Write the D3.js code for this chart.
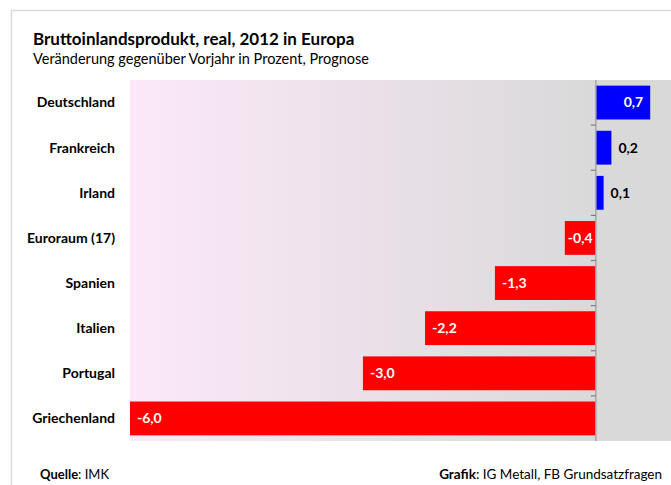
<!DOCTYPE html>
<html>
<head>
<meta charset="utf-8">
<script src="https://cdn.jsdelivr.net/npm/d3@7"></script>
<style>
  body { margin: 0; background: #fff; }
  text { font-family: Lato, "Open Sans", sans-serif; }
</style>
</head>
<body>
<div id="chart"></div>
<script>
// ===========Data
var countries = ["Deutschland", "Frankreich", "Irland", "Euroraum (17)", "Spanien", "Italien", "Portugal", "Griechenland"];
var values = [0.7, 0.2, 0.1, -0.4, -1.3, -2.2, -3.0, -6.0];
var valueLabels = ["0,7", "0,2", "0,1", "-0,4", "-1,3", "-2,2", "-3,0", "-6,0"];

var svgWidth = 671;
var svgHeight = 485;
var margin = { top: 80, right: 0, bottom: 44, left: 130 };
var width = svgWidth - margin.left - margin.right;
var height = svgHeight - margin.top - margin.bottom;

var svg = d3.select("#chart").append("svg")
    .attr("width", svgWidth)
    .attr("height", svgHeight);

// ===========Outer frame
svg.append("path")
    .attr("d", "M11.5," + svgHeight + " V10.5 H" + svgWidth)
    .attr("fill", "none")
    .attr("stroke", "#d9d9d9")
    .attr("stroke-width", 1.5);

// ===========Titles
svg.append("text")
    .attr("x", 33).attr("y", 45)
    .attr("font-size", "17px").attr("font-weight", "bold")
    .attr("fill", "#000")
    .text("Bruttoinlandsprodukt, real, 2012 in Europa");
svg.append("text")
    .attr("x", 33).attr("y", 64)
    .attr("font-size", "14.5px")
    .attr("fill", "#000")
    .text("Veränderung gegenüber Vorjahr in Prozent, Prognose");

// ===========Gradient background
var defs = svg.append("defs");
var grad = defs.append("linearGradient").attr("id", "bg")
    .attr("x1", "0%").attr("x2", "100%").attr("y1", "0%").attr("y2", "0%");
grad.append("stop").attr("offset", "0%").attr("stop-color", "#fce8f9");
grad.append("stop").attr("offset", "86%").attr("stop-color", "#d9d9d9");
grad.append("stop").attr("offset", "100%").attr("stop-color", "#d9d9d9");

var chartGroup = svg.append("g")
    .attr("transform", `translate(${margin.left}, ${margin.top})`);

chartGroup.append("rect")
    .attr("width", width + 5)
    .attr("height", height)
    .attr("fill", "url(#bg)");

// ===========Scales
var xScale = d3.scaleLinear().domain([-6, 1]).range([0, width + 2.5]);
var yScale = d3.scaleBand().domain(countries).range([0, height]).paddingInner(0.25).paddingOuter(0.125);

// ===========Bars
chartGroup.selectAll(".bar")
    .data(values)
    .enter()
    .append("rect")
    .attr("class", "bar")
    .attr("x", d => xScale(Math.min(0, d)))
    .attr("y", (d, i) => yScale(countries[i]))
    .attr("width", d => Math.abs(xScale(d) - xScale(0)))
    .attr("height", yScale.bandwidth())
    .attr("fill", d => d < 0 ? "#ff0000" : "#0000ff");

// ===========Axis at zero
var leftAxis = d3.axisLeft(yScale).tickSize(5).tickFormat("");
var axisG = chartGroup.append("g")
    .attr("transform", `translate(${xScale(0)}, 0)`)
    .call(leftAxis);
axisG.selectAll(".tick").remove();
axisG.select(".domain").attr("stroke", "#a6a6a6").attr("stroke-width", 1.5).attr("d", "M0,0V" + height);
var step = yScale.step();
axisG.selectAll(".sep")
    .data(d3.range(1, countries.length))
    .enter()
    .append("line")
    .attr("x1", -5).attr("x2", 0)
    .attr("y1", d => d * step).attr("y2", d => d * step)
    .attr("stroke", "#808080").attr("stroke-width", 1.2);

// ===========Category labels
chartGroup.selectAll(".cat")
    .data(countries)
    .enter()
    .append("text")
    .attr("x", -15)
    .attr("y", d => yScale(d) + yScale.bandwidth() / 2)
    .attr("dy", "0.35em")
    .attr("text-anchor", "end")
    .attr("font-size", "14px")
    .attr("font-weight", "bold")
    .attr("fill", "#000")
    .text(d => d);

// ===========Value labels
chartGroup.selectAll(".val")
    .data(values)
    .enter()
    .append("text")
    .attr("x", function(d) {
        if (d < 0) return xScale(d) + (d > -1 ? 3 : 7);
        if (d >= 0.5) return xScale(d) - 7;
        return xScale(d) + 7;
    })
    .attr("y", (d, i) => yScale(countries[i]) + yScale.bandwidth() / 2)
    .attr("dy", "0.35em")
    .attr("text-anchor", d => (d >= 0.5) ? "end" : "start")
    .attr("font-size", "14px")
    .attr("font-weight", "bold")
    .attr("fill", d => (d < 0 || d >= 0.5) ? "#fff" : "#000")
    .text((d, i) => valueLabels[i]);

// ===========Footer
var q = svg.append("text").attr("x", 40).attr("y", 479).attr("font-size", "13px").attr("fill", "#000");
q.append("tspan").attr("font-weight", "bold").text("Quelle");
q.append("tspan").text(": IMK");
var g = svg.append("text").attr("x", 662).attr("y", 479).attr("font-size", "13.5px").attr("fill", "#000").attr("text-anchor", "end");
g.append("tspan").attr("font-weight", "bold").text("Grafik");
g.append("tspan").text(": IG Metall, FB Grundsatzfragen");
</script>
</body>
</html>
